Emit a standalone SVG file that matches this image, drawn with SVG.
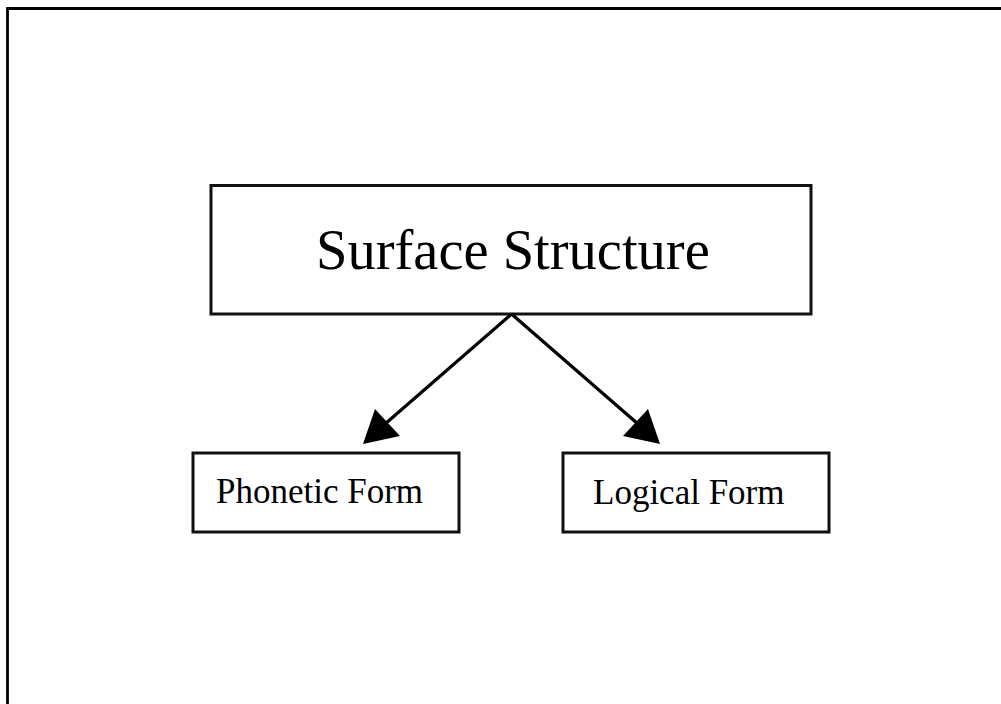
<svg xmlns="http://www.w3.org/2000/svg" width="1001" height="704" viewBox="0 0 1001 704">
<style>
.box{fill:#fff;stroke:#111;stroke-width:3}
.lbl{font-family:"Liberation Serif","Times New Roman",serif;fill:#000}
.conn{stroke:#000;stroke-width:3.2;fill:none}
</style>
<rect width="1001" height="704" fill="#fff"/>
<path d="M7.5,704 V8.5 H1001" fill="none" stroke="#000" stroke-width="2.8"/>
<g id="surface">
<rect class="box" x="211" y="185.5" width="600" height="128.5"/>
<text class="lbl" x="316" y="269" font-size="56.5">Surface Structure</text>
</g>
<g id="phonetic">
<rect class="box" x="193" y="453" width="266" height="79"/>
<text class="lbl" x="216" y="503" font-size="35">Phonetic Form</text>
</g>
<g id="logical">
<rect class="box" x="563" y="453" width="266" height="79"/>
<text class="lbl" x="593" y="504" font-size="35">Logical Form</text>
</g>
<g id="connectors">
<line class="conn" x1="511.5" y1="314" x2="385" y2="424"/>
<polygon points="363,444 375,409 400,436" fill="#000"/>
<line class="conn" x1="511.5" y1="314" x2="638" y2="424"/>
<polygon points="660,444 648,409 623,436" fill="#000"/>
</g>
</svg>
